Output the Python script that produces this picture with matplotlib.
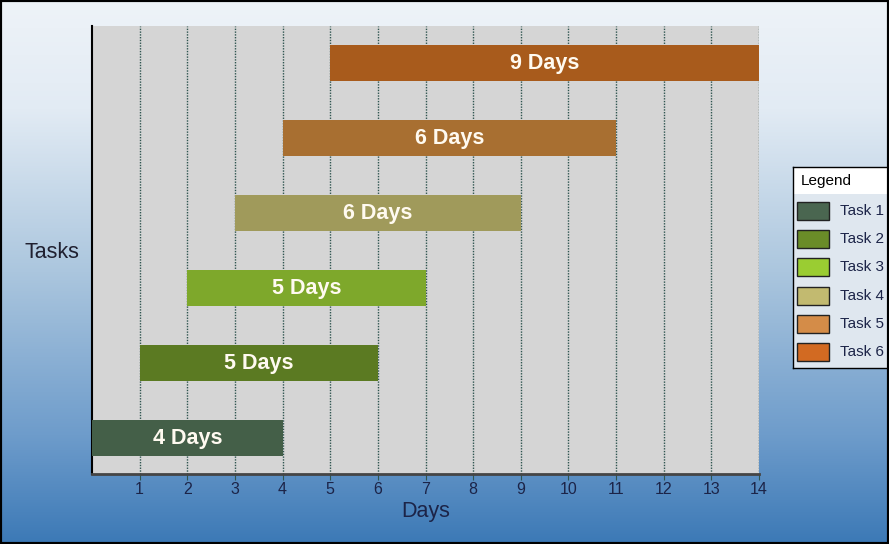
import numpy as np
import matplotlib
matplotlib.use("Agg")
import matplotlib.pyplot as plt
from matplotlib.colors import LinearSegmentedColormap
from matplotlib.patches import Rectangle

plt.rcParams["font.family"] = ["Liberation Sans", "DejaVu Sans"]

tasks = ["Task 1", "Task 2", "Task 3", "Task 4", "Task 5", "Task 6"]
starts = [0, 1, 2, 3, 4, 5]
durations = [4, 5, 5, 6, 7, 9]
bar_labels = ["4 Days", "5 Days", "5 Days", "6 Days", "6 Days", "9 Days"]
bar_colors = ["#445f48", "#5b7a22", "#7ea82b", "#a09a5b", "#a86f31", "#a85b1c"]
legend_colors = ["#4a6650", "#6a8c28", "#9acd32", "#c2ba70", "#d48c48", "#d26a22"]
xticks = list(range(1, 15))

W, H = 889, 544
fig = plt.figure(figsize=(W / 100, H / 100), dpi=100)

# gradient background
bg = fig.add_axes([0, 0, 1, 1], zorder=-10)
cmap = LinearSegmentedColormap.from_list(
    "bg", [(0.0, "#eef3f8"), (0.2, "#e2ebf4"), (0.5, "#abc6de"), (0.8, "#6e9ccb"), (1.0, "#3c79b6")]
)
grad = np.linspace(0, 1, 256).reshape(-1, 1)
bg.imshow(grad, aspect="auto", cmap=cmap, extent=[0, 1, 0, 1], origin="upper")
bg.set_axis_off()

# plot area
x0, x1 = 92, 759
y0, y1 = 26, 474
ax = fig.add_axes([x0 / W, 1 - y1 / H, (x1 - x0) / W, (y1 - y0) / H])
ax.set_facecolor("#d5d5d5")

ypos = np.arange(len(tasks))
ax.barh(ypos, durations, left=starts, height=0.48, color=bar_colors, zorder=3)
for y, s, d, lab in zip(ypos, starts, durations, bar_labels):
    ax.text(s + d / 2, y, lab, color="#fffaf0", ha="center", va="center",
            fontsize=15.5, fontweight="bold", zorder=4)

ax.set_xlim(0, 14)
ax.set_ylim(-0.48, 5.5)
ax.set_xticks(xticks)
ax.set_xticklabels([str(t) for t in xticks], color="#1c2448", fontsize=11.5)
ax.set_yticks([])
ax.grid(axis="x", color="#2f5550", linestyle=(0, (1, 1)), linewidth=1, zorder=1)
ax.tick_params(axis="x", length=4, color="#2f5550", pad=2)
for side in ["top", "right"]:
    ax.spines[side].set_visible(False)
ax.spines["left"].set_color("black")
ax.spines["left"].set_linewidth(1.5)
ax.spines["bottom"].set_color("#454545")
ax.spines["bottom"].set_linewidth(2)

ax.set_xlabel("Days", fontsize=15.5, color="#1c2448", labelpad=3)
fig.text(52 / W, 1 - 252 / H, "Tasks", fontsize=15.5, color="#202030", ha="center", va="center")

# legend box (clipped at right edge)
lx, ly_top, ly_bot = 793, 167, 368
lax = fig.add_axes([lx / W, 1 - ly_bot / H, 120 / W, (ly_bot - ly_top) / H])
lax.set_xlim(0, 120)
lax.set_ylim(ly_bot, ly_top)
lax.set_xticks([])
lax.set_yticks([])
lax.set_facecolor("#dfe7ef")
for sp in lax.spines.values():
    sp.set_color("black")
    sp.set_linewidth(1)
lax.add_patch(Rectangle((0, ly_top), 120, 27, facecolor="white", edgecolor="none"))
lax.text(8, ly_top + 14, "Legend", fontsize=11, va="center", ha="left", color="black")
for i, (name, c) in enumerate(zip(tasks, legend_colors)):
    yc = 211 + i * 28.2
    lax.add_patch(Rectangle((4, yc - 9), 32, 18, facecolor=c, edgecolor="#222222", linewidth=1))
    lax.text(47, yc, name, fontsize=11, va="center", ha="left", color="#1c2448")

# outer frame
fig.patches.append(Rectangle((0, 0), 1, 1, transform=fig.transFigure, fill=False,
                             edgecolor="black", linewidth=3))

fig.savefig("out.png", dpi=100)
